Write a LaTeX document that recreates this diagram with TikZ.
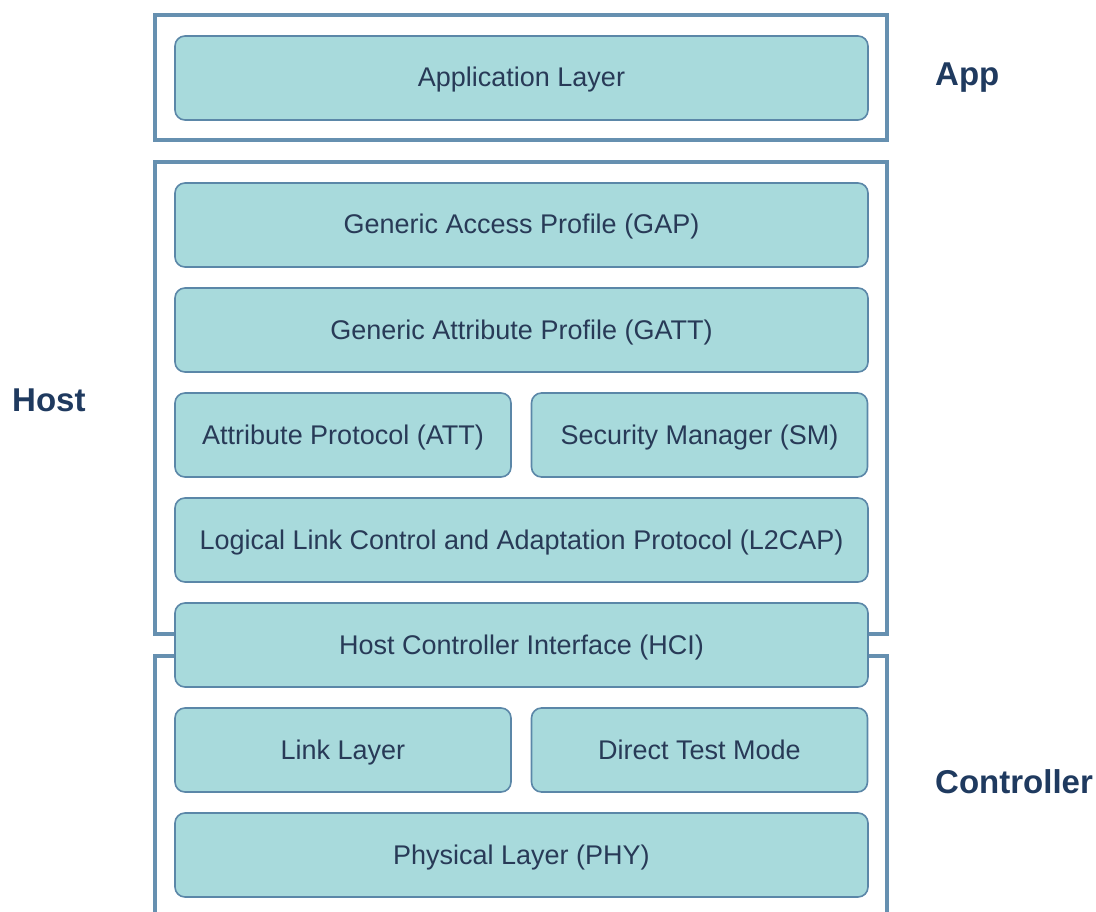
\documentclass[tikz,border=0pt]{standalone}
\usepackage{fontspec}
\setmainfont{Liberation Sans}
\begin{document}
\begin{tikzpicture}[x=1pt,y=-1pt,
  layerbox/.style={draw=boxedge, fill=boxfill, line width=1.6pt, rounded corners=10pt,
    text=textnavy, font=\fontsize{27}{32}\selectfont, inner sep=0pt,
    text height=21pt, text depth=3pt},
  wide/.style={layerbox, minimum width=693pt, minimum height=84pt},
  half/.style={layerbox, minimum width=336pt, minimum height=84pt},
  frame/.style={draw=frameedge, line width=3.6pt},
  grouplabel/.style={text=labelnavy, font=\fontsize{33}{39}\selectfont\bfseries, inner sep=0pt}]
\definecolor{boxfill}{HTML}{A8DADC}
\definecolor{boxedge}{HTML}{5B87A8}
\definecolor{frameedge}{HTML}{6690B0}
\definecolor{textnavy}{HTML}{283A57}
\definecolor{labelnavy}{HTML}{1F3A5F}
\useasboundingbox (0,0) rectangle (1096,912);

% stack of layers
\node[wide] (app)   at (521.5,78)  {Application Layer};
\node[wide] (gap)   at (521.5,225) {Generic Access Profile (GAP)};
\node[wide] (gatt)  at (521.5,330) {Generic Attribute Profile (GATT)};
\node[half] (att)   at (343,435)   {Attribute Protocol (ATT)};
\node[half] (sm)    at (699.5,435) {Security Manager (SM)};
\node[wide] (l2cap) at (521.5,540) {Logical Link Control and Adaptation Protocol (L2CAP)};
\node[wide] (hci)   at (521.5,645) {Host Controller Interface (HCI)};
\node[half] (ll)    at (343,750)   {Link Layer};
\node[half] (dtm)   at (699.5,750) {Direct Test Mode};
\node[wide] (phy)   at (521.5,855) {Physical Layer (PHY)};

% group frames
\draw[frame] (155,15) rectangle (887,140);
\coordinate (hostL) at (hci.west |- 0,634);
\coordinate (hostR) at (hci.east |- 0,634);
\coordinate (ctrlL) at (hci.west |- 0,656);
\coordinate (ctrlR) at (hci.east |- 0,656);
\draw[frame] (hostL) -- (155,634) -- (155,162) -- (887,162) -- (887,634) -- (hostR);
\draw[frame] (ctrlL) -- (155,656) -- (155,915);
\draw[frame] (ctrlR) -- (887,656) -- (887,915);

% group labels
\node[grouplabel, anchor=west] (applbl)  at (935,78)  {App};
\node[grouplabel, anchor=west] (hostlbl) at (12,400)  {Host};
\node[grouplabel, anchor=west] (ctrllbl) at (935,782) {Controller};
\end{tikzpicture}
\end{document}
